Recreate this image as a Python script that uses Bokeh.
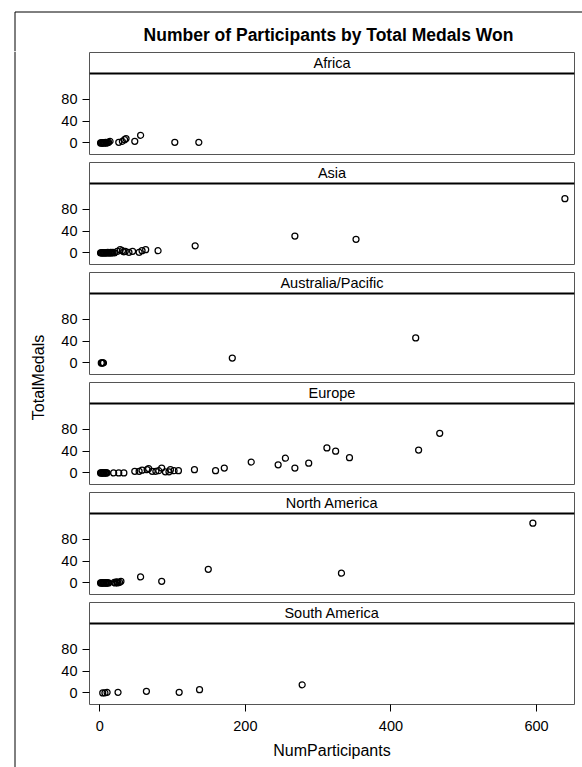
import math
from bokeh.plotting import figure
from bokeh.layouts import row, column
from bokeh.models import Range1d, FixedTicker, Span, Label, ColumnDataSource
from bokeh.embed import file_html
from bokeh.resources import INLINE

# ---------------- data ----------------
title_text = "Number of Participants by Total Medals Won"
x_label = "NumParticipants"
y_label = "TotalMedals"
regions = ["Africa", "Asia", "Australia/Pacific", "Europe", "North America", "South America"]
x_ticks = [0, 200, 400, 600]
y_ticks = [0, 40, 80]

africa_participants = [1, 2, 3, 4, 5, 6, 7, 8, 9, 10, 11, 12, 14, 26, 31, 34, 36, 48, 56, 103, 136]
africa_medals = [0, 0, 0, 0, 0, 0, 0, 1, 0, 0, 1, 1, 3, 1, 3, 6, 8, 3, 14, 1, 1]

asia_participants = [1, 2, 3, 4, 5, 6, 7, 8, 9, 10, 11, 12, 13, 14, 15, 16, 17, 18, 20, 24, 28,
                     31, 33, 35, 40, 45, 54, 58, 63, 80, 131, 268, 352, 639]
asia_medals = [0, 0, 0, 0, 0, 0, 0, 0, 0, 0, 1, 0, 0, 0, 1, 0, 0, 1, 0, 3, 6,
               4, 2, 3, 1, 3, 1, 4, 6, 4, 13, 31, 25, 100]

pacific_participants = [2, 3, 4, 5, 182, 434]
pacific_medals = [0, 0, 0, 0, 9, 46]

europe_participants = [1, 2, 3, 4, 5, 6, 7, 8, 9, 10, 19, 26, 33, 48, 54, 58, 65, 67, 72, 77, 81,
                       85, 90, 95, 97, 102, 108, 130, 159, 171, 208, 245, 255, 268, 287, 312,
                       324, 343, 438, 467]
europe_medals = [0, 0, 0, 0, 0, 0, 0, 0, 0, 0, 0, 0, 0, 3, 3, 5, 6, 8, 3, 3, 4,
                 9, 2, 2, 6, 4, 4, 6, 4, 9, 20, 15, 27, 9, 18, 46,
                 40, 28, 42, 73]

north_america_participants = [1, 2, 3, 4, 5, 6, 7, 8, 9, 10, 11, 12, 20, 21, 23, 24, 25, 27, 29,
                              56, 85, 149, 332, 595]
north_america_medals = [0, 0, 0, 0, 0, 0, 0, 0, 0, 0, 0, 0, 1, 0, 2, 1, 0, 1, 3,
                        11, 3, 25, 18, 110]

south_america_participants = [4, 7, 10, 25, 64, 109, 137, 278]
south_america_medals = [0, 0, 1, 1, 3, 1, 6, 15]

series = {
    "Africa": (africa_participants, africa_medals),
    "Asia": (asia_participants, asia_medals),
    "Australia/Pacific": (pacific_participants, pacific_medals),
    "Europe": (europe_participants, europe_medals),
    "North America": (north_america_participants, north_america_medals),
    "South America": (south_america_participants, south_america_medals),
}

# ---------------- layout constants ----------------
FONT = "Liberation Sans"
X_START, X_END = -14.2, 652.2
PX_PER_MEDAL = 0.5425
DATA_H = 81
HEAD_H = 21
FRAME_H = DATA_H + HEAD_H
Y_START = -21.4
Y_HEAD = Y_START + DATA_H / PX_PER_MEDAL
Y_END = Y_START + FRAME_H / PX_PER_MEDAL
OUTLINE = "#555555"
TOP_H = 51
PANEL_W = 532


def make_panel(name, last):
    xs, ys = series[name]
    bottom = 63 if last else 7
    p = figure(width=PANEL_W, height=1 + FRAME_H + bottom,
               x_range=Range1d(X_START, X_END), y_range=Range1d(Y_START, Y_END),
               x_axis_location="below" if last else None,
               output_backend="svg", toolbar_location=None,
               min_border_left=39, min_border_right=8, min_border_top=1,
               min_border_bottom=bottom)
    p.grid.visible = False
    p.outline_line_color = OUTLINE
    p.outline_line_width = 1
    p.background_fill_color = "white"
    p.border_fill_color = "white"

    ya = p.yaxis[0]
    ya.ticker = FixedTicker(ticks=y_ticks)
    ya.axis_line_color = None
    ya.major_tick_out = 7
    ya.major_tick_in = 0
    ya.minor_tick_line_color = None
    ya.major_tick_line_color = "black"
    ya.major_label_standoff = 5
    ya.major_label_text_font = FONT
    ya.major_label_text_font_size = "14.5px"
    ya.major_label_text_color = "black"

    if last:
        xa = p.xaxis[0]
        xa.ticker = FixedTicker(ticks=x_ticks)
        xa.axis_line_color = None
        xa.major_tick_out = 7
        xa.major_tick_in = 0
        xa.minor_tick_line_color = None
        xa.major_tick_line_color = "black"
        xa.major_label_standoff = 9
        xa.major_label_text_font = FONT
        xa.major_label_text_font_size = "14.5px"
        xa.major_label_text_color = "black"
        xa.axis_label = x_label
        xa.axis_label_text_font = FONT
        xa.axis_label_text_font_size = "16px"
        xa.axis_label_text_font_style = "normal"
        xa.axis_label_text_color = "black"
        xa.axis_label_standoff = 8

    # header strip
    p.add_layout(Span(location=Y_HEAD, dimension="width", line_color="black", line_width=2))
    p.add_layout(Label(x=(X_START + X_END) / 2, y=Y_HEAD + (HEAD_H / 2) / PX_PER_MEDAL,
                       text=name, text_align="center", text_baseline="middle",
                       text_font=FONT, text_font_size="14.5px", text_color="black"))

    src = ColumnDataSource(dict(participants=xs, medals=ys))
    p.scatter("participants", "medals", source=src, marker="circle", size=6,
              fill_color=None, line_color="black", line_width=1.25)
    return p


panels = [make_panel(r, i == len(regions) - 1) for i, r in enumerate(regions)]

# top strip: title + graph border
top = figure(width=582, height=TOP_H, x_range=Range1d(0, 582), y_range=Range1d(TOP_H, 0),
             x_axis_type=None, y_axis_type=None, min_border=0, output_backend="svg",
             toolbar_location=None, outline_line_color=None)
top.grid.visible = False
top.segment(x0=[14.5], y0=[11.5], x1=[582], y1=[11.5], line_color="black", line_width=1)
top.segment(x0=[14.5], y0=[11.5], x1=[14.5], y1=[TOP_H], line_color="black", line_width=1)
top.add_layout(Label(x=328, y=34, text=title_text, text_align="center", text_baseline="middle",
                     text_font=FONT, text_font_size="17.5px", text_font_style="bold",
                     text_color="black"))

# left strip: y label + graph border
left_h = sum(p.height for p in panels)
left = figure(width=582 - PANEL_W, height=left_h, x_range=Range1d(0, 582 - PANEL_W),
              y_range=Range1d(TOP_H + left_h, TOP_H), x_axis_type=None, y_axis_type=None,
              min_border=0, output_backend="svg", toolbar_location=None, outline_line_color=None)
left.grid.visible = False
left.segment(x0=[14.5], y0=[TOP_H], x1=[14.5], y1=[TOP_H + left_h], line_color="black", line_width=1)
left.add_layout(Label(x=38, y=377, text=y_label, angle=math.pi / 2, text_align="center",
                      text_baseline="middle", text_font=FONT, text_font_size="16px",
                      text_color="black"))

root = column(top, row(left, column(*panels, spacing=0), spacing=0), spacing=0)

open("out.html", "w").write(file_html(root, INLINE))
